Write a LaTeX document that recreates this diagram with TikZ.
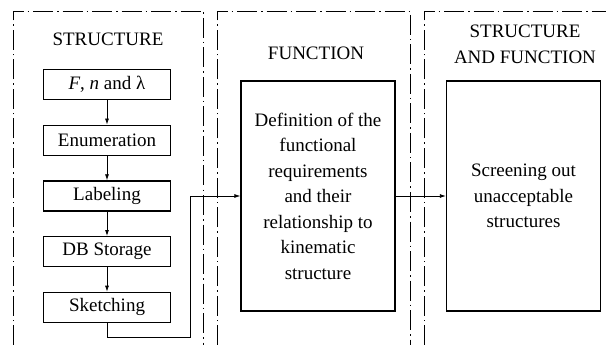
\documentclass[tikz,border=0pt]{standalone}
\usepackage{fontspec}
\setmainfont{Liberation Serif}
\usetikzlibrary{arrows.meta,positioning}

\begin{document}
\begin{tikzpicture}[
    x=1pt, y=-1pt,
    node distance=24.5pt,
    font=\rmfamily\fontsize{19}{25.5}\selectfont,
    panel/.style={draw, line width=0.8pt, dash pattern=on 20pt off 4pt on 1.5pt off 4pt},
    block/.style={rectangle, draw, line width=1.2pt, minimum width=127pt, minimum height=30pt, inner sep=0pt},
    bigblock/.style={rectangle, draw, line width=1.2pt, minimum width=154pt, minimum height=230pt, align=center, inner sep=0pt},
    arrow/.style={line width=0.8pt, -{Latex[length=6pt,width=4pt]}}
]
    \useasboundingbox (0,0) rectangle (606,345);

    % dash-dot panels, open at the bottom
    \draw[panel] (13,345) -- (13,11) -- (203,11) -- (203,345);
    \draw[panel] (217,345) -- (217,11) -- (410,11) -- (410,345);
    \draw[panel] (424,345) -- (424,11) -- (612,11);

    \node (title1) at (108,39) {STRUCTURE};
    \node (title2) at (316,53) {FUNCTION};
    \node[align=center] (title3) at (525,44.5) {STRUCTURE\\AND FUNCTION};

    \node[block] (fnl) at (107,84.5) {\textit{F}, \textit{n} and λ};
    \node[block, below=of fnl] (enum) {Enumeration};
    \node[block, below=of enum] (label) {Labeling};
    \node[block, below=of label] (dbstore) {DB Storage};
    \node[block, below=of dbstore] (sketch) {Sketching};

    \node[bigblock] (define) at (318,196) {Definition of the\\functional\\requirements\\and their\\relationship to\\kinematic\\structure};
    \node[bigblock] (screen) at (523.5,196) {Screening out\\unacceptable\\structures};

    \foreach \a/\b in {fnl/enum, enum/label, label/dbstore, dbstore/sketch}
        \draw[arrow] (\a) -- (\b);

    \coordinate (corner) at (190,337);
    \draw[arrow] (sketch.south) |- (corner) |- (define.west);
    \draw[arrow] (define) -- (screen);
\end{tikzpicture}
\end{document}
